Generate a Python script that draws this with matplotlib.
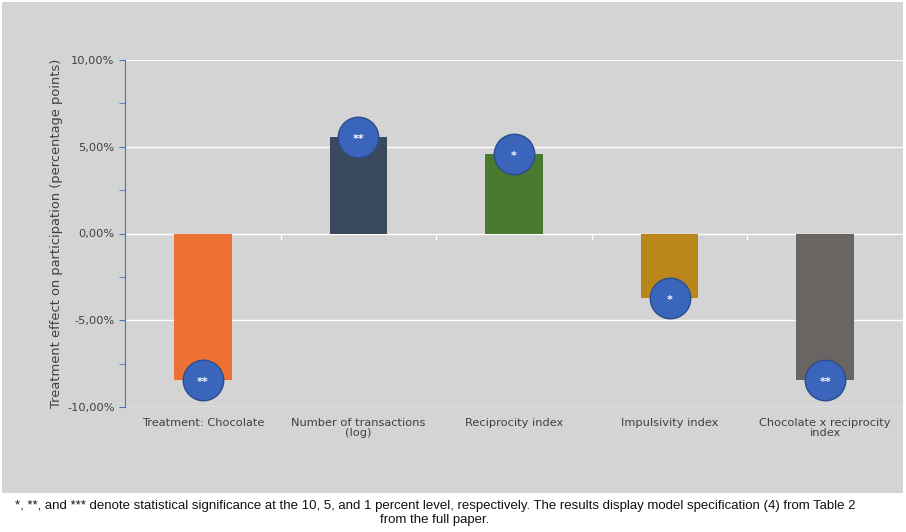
import matplotlib
matplotlib.use("Agg")
import matplotlib.pyplot as plt
from matplotlib.patches import Rectangle
from matplotlib.ticker import FuncFormatter, MultipleLocator

categories = ["Treatment: Chocolate", "Number of transactions\n(log)", "Reciprocity index",
              "Impulsivity index", "Chocolate x reciprocity\nindex"]
values = [-8.43, 5.59, 4.61, -3.73, -8.43]
stars = ["**", "**", "*", "*", "**"]
colors = ["#ED7132", "#3A4A5E", "#4A7A30", "#B8861A", "#696563"]
yticks = [-10, -5, 0, 5, 10]

plt.rcParams['font.family'] = ['DejaVu Sans']

W, H = 906, 532
fig = plt.figure(figsize=(W / 100, H / 100), dpi=100)
fig.patch.set_facecolor("white")
fig.patches.append(Rectangle((2 / W, 1 - 493 / H), 901 / W, 491 / H, transform=fig.transFigure,
                             facecolor="#D4D4D4", edgecolor="none", zorder=-10))

ax = fig.add_axes([125 / W, 1 - 407 / H, (903 - 125) / W, (407 - 60) / H])
ax.set_zorder(5)
ax.patch.set_alpha(0)

x = list(range(len(categories)))
ax.bar(x, values, width=0.37, color=colors, zorder=3)
ax.scatter(x, values, s=850, color="#3A65BB", edgecolor="#2B4D8F", linewidth=1, zorder=4)
for xi, v, s in zip(x, values, stars):
    ax.text(xi, v - 0.12, s, ha="center", va="center", color="white", fontsize=8, fontweight="bold", zorder=5)

ax.set_xlim(-0.5, len(categories) - 0.5)
ax.set_ylim(-10, 10)
ax.set_yticks(yticks)
ax.yaxis.set_minor_locator(MultipleLocator(2.5))
ax.yaxis.set_major_formatter(FuncFormatter(lambda v, p: f"{v:.2f}%".replace(".", ",")))
ax.grid(axis="y", color="white", linewidth=1, zorder=1)
ax.set_xticks(x)
ax.set_xticklabels(categories, fontsize=8.2, color="#404040", linespacing=0.95)
ax.tick_params(axis="x", length=0, pad=8)
ax.tick_params(axis="y", which="both", length=4, color="#4472C4", direction="out", labelsize=8.2,
               labelcolor="#404040", pad=3.5)

for sp in ["top", "right", "bottom"]:
    ax.spines[sp].set_visible(False)
ax.spines["left"].set_color("#4472C4")
ax.spines["left"].set_linewidth(0.8)

# category separators at zero line
for b in [0.5, 1.5, 2.5, 3.5]:
    ax.plot([b, b], [0, -0.3], color="white", linewidth=1, zorder=2)

ax.set_ylabel("Treatment effect on participation (percentage points)", fontsize=9.4, color="#404040", labelpad=3)

fig.text(435 / W, 1 - 513 / H,
         "*, **, and *** denote statistical significance at the 10, 5, and 1 percent level, respectively. "
         "The results display model specification (4) from Table 2\nfrom the full paper.",
         ha="center", va="center", fontsize=9.5, family=['Liberation Sans Narrow', 'Liberation Sans', 'DejaVu Sans'],
         color="#111111", linespacing=1.3)

fig.savefig("out.png", dpi=100, facecolor="white")
